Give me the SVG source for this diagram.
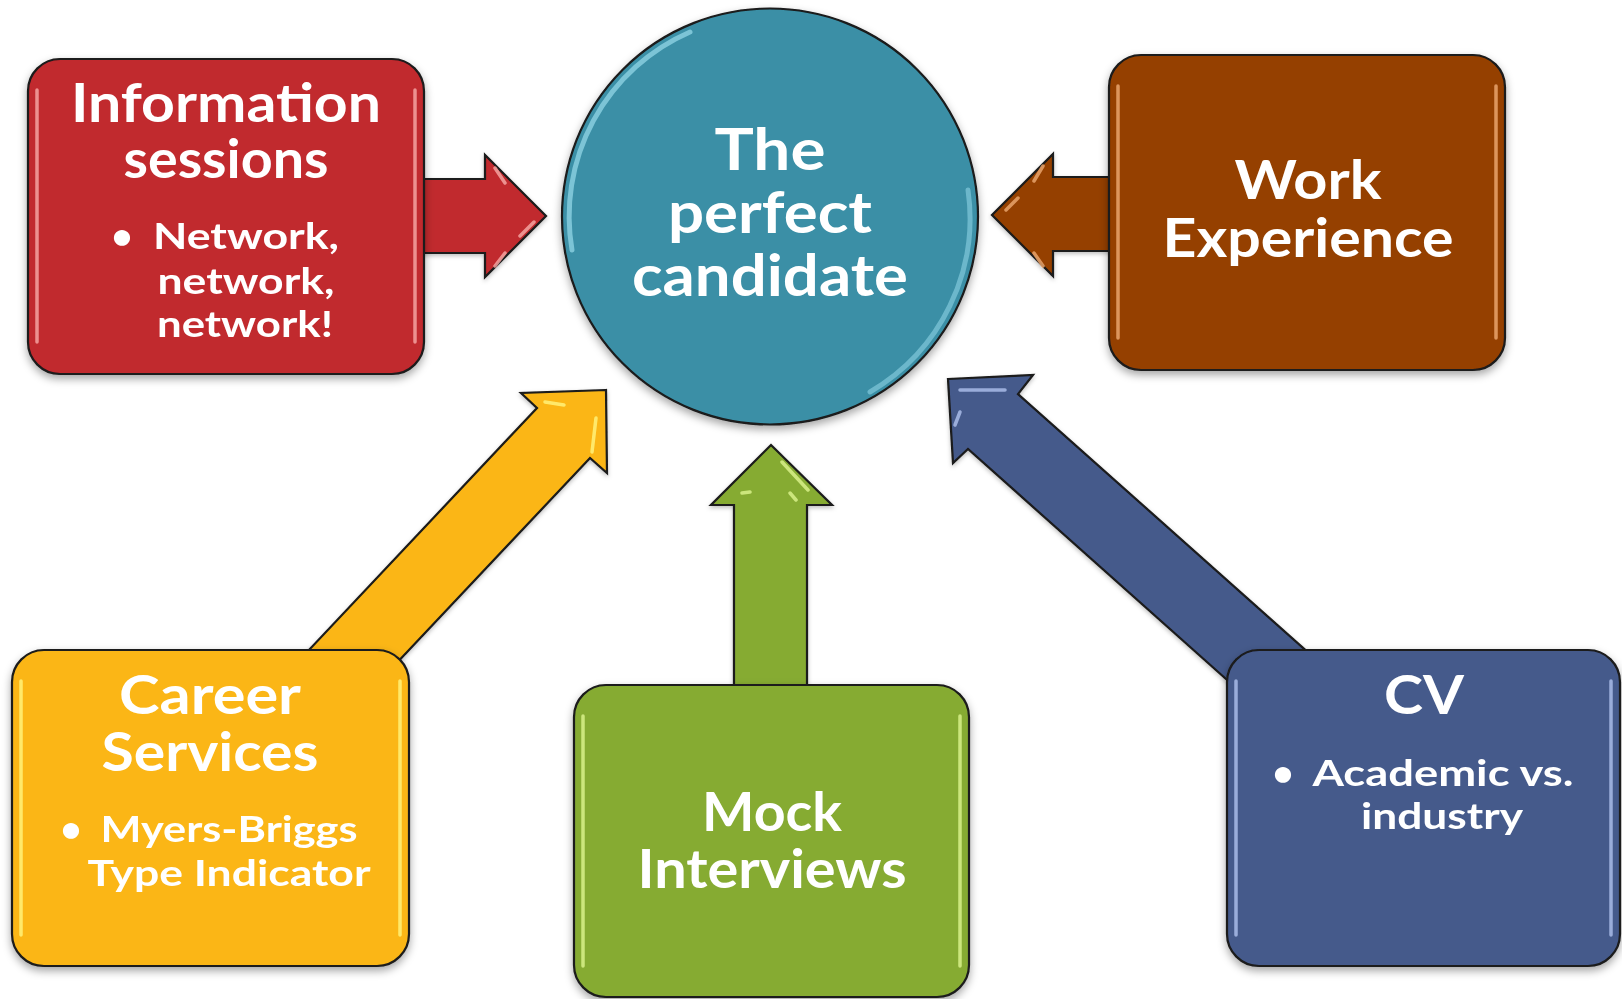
<svg xmlns="http://www.w3.org/2000/svg" width="1622" height="999" viewBox="0 0 1622 999">
<defs>
<filter id="sh" x="-10%" y="-10%" width="120%" height="125%">
<feDropShadow dx="0" dy="4" stdDeviation="4" flood-color="#000" flood-opacity="0.35"/>
</filter>
<filter id="sh2" x="-10%" y="-10%" width="120%" height="125%">
<feDropShadow dx="0" dy="2" stdDeviation="2" flood-color="#000" flood-opacity="0.25"/>
</filter>
</defs>
<style>
.box{stroke:#1a1a1a;stroke-width:2.2}
.arr{stroke:#1a1a1a;stroke-width:2.2;stroke-linejoin:miter}
.hl{fill:none;stroke-width:3.5;stroke-linecap:round;opacity:0.85}
.t{font-family:Lato,"Open Sans","Liberation Sans",sans-serif;font-weight:bold;fill:#fff;text-anchor:middle}
.h{font-size:53px}
.c{font-size:58px}
.b{font-size:37px}
</style>
<rect width="1622" height="999" fill="#fff"/>
<g id="connectors" filter="url(#sh2)">
<path class="arr" fill="#C1292E" d="M400 179 L485 179 L485 155 L546 216 L485 277 L485 253 L400 253 Z"/>
<path class="arr" fill="#954000" d="M1130 177 L1053 177 L1053 154 L992 215 L1053 276 L1053 251 L1130 251 Z"/>
<path class="arr" fill="#FBB614" d="M606 390 L521 393 L537 408 L243 720 L343 720 L590 458 L607 473 Z"/>
<path class="arr" fill="#86AB33" d="M734 720 L734 505 L711 505 L771 445 L832 505 L807 505 L807 720 Z"/>
<path class="arr" fill="#455A8B" d="M948 379 L1033 375 L1018 394 L1384 720 L1272 720 L968 449 L953 463 Z"/>
<path class="hl" stroke="#F3A3A0" d="M495 168 L505 183 M495 266 L505 253 M520 236 L534 222"/>
<path class="hl" stroke="#E9A46C" d="M1043 166 L1034 181 M1043 266 L1034 253 M1006 210 L1018 198"/>
<path class="hl" stroke="#FFF27A" d="M545 402 L564 405 M596 418 L592 452"/>
<path class="hl" stroke="#D8F08A" d="M782 462 L808 490 M742 493 L750 492 M790 493 L796 500"/>
<path class="hl" stroke="#A9BCE8" d="M960 390 L1005 390 M955 425 L960 412"/>
</g>
<g id="center" filter="url(#sh)">
<circle cx="770" cy="216.5" r="208" fill="#3A8FA6" stroke="#1a1a1a" stroke-width="2.2"/>
<path d="M572 250 A201 201 0 0 1 690 32" fill="none" stroke="#9EE0F0" stroke-width="5" stroke-linecap="round" opacity="0.65"/>
<path d="M968 190 A201 201 0 0 1 870 392" fill="none" stroke="#9EE0F0" stroke-width="5" stroke-linecap="round" opacity="0.5"/>
<text class="t c" x="770" y="170" textLength="111" lengthAdjust="spacingAndGlyphs">The</text>
<text class="t c" x="770" y="233" textLength="204" lengthAdjust="spacingAndGlyphs">perfect</text>
<text class="t c" x="770" y="296" textLength="276" lengthAdjust="spacingAndGlyphs">candidate</text>
</g>
<g id="info" filter="url(#sh)">
<rect class="box" x="28" y="59" width="396" height="315" rx="32" fill="#C1292E"/>
<path class="hl" stroke="#F3A3A0" d="M37 90 V342 M415 90 V342"/>
<text class="t h" x="226" y="122" textLength="310" lengthAdjust="spacingAndGlyphs">Information</text>
<text class="t h" x="226" y="178" textLength="205" lengthAdjust="spacingAndGlyphs">sessions</text>
<text class="t b" x="122" y="249">•</text>
<text class="t b" x="246" y="249" textLength="186" lengthAdjust="spacingAndGlyphs">Network,</text>
<text class="t b" x="246" y="294" textLength="177" lengthAdjust="spacingAndGlyphs">network,</text>
<text class="t b" x="245" y="337" textLength="176" lengthAdjust="spacingAndGlyphs">network!</text>
</g>
<g id="work" filter="url(#sh)">
<rect class="box" x="1109" y="55" width="396" height="315" rx="32" fill="#954000"/>
<path class="hl" stroke="#E9A46C" d="M1118 86 V338 M1496 86 V338"/>
<text class="t h" x="1308" y="199" textLength="147" lengthAdjust="spacingAndGlyphs">Work</text>
<text class="t h" x="1308" y="257" textLength="291" lengthAdjust="spacingAndGlyphs">Experience</text>
</g>
<g id="career" filter="url(#sh)">
<rect class="box" x="12" y="650" width="397" height="316" rx="32" fill="#FBB614"/>
<path class="hl" stroke="#FFF27A" d="M21 681 V935 M400 681 V935"/>
<text class="t h" x="210" y="714" textLength="182" lengthAdjust="spacingAndGlyphs">Career</text>
<text class="t h" x="210" y="771" textLength="217" lengthAdjust="spacingAndGlyphs">Services</text>
<text class="t b" x="71" y="842">•</text>
<text class="t b" x="229" y="842" textLength="257" lengthAdjust="spacingAndGlyphs">Myers-Briggs</text>
<text class="t b" x="229" y="886" textLength="283" lengthAdjust="spacingAndGlyphs">Type Indicator</text>
</g>
<g id="mock" filter="url(#sh)">
<rect class="box" x="574" y="685" width="395" height="312" rx="32" fill="#86AB33"/>
<path class="hl" stroke="#D8F08A" d="M583 716 V966 M960 716 V966"/>
<text class="t h" x="772" y="831" textLength="140" lengthAdjust="spacingAndGlyphs">Mock</text>
<text class="t h" x="772" y="888" textLength="269" lengthAdjust="spacingAndGlyphs">Interviews</text>
</g>
<g id="cv" filter="url(#sh)">
<rect class="box" x="1227" y="650" width="393" height="316" rx="32" fill="#455A8B"/>
<path class="hl" stroke="#A9BCE8" d="M1236 681 V935 M1611 681 V935"/>
<text class="t h" x="1424" y="714" textLength="80" lengthAdjust="spacingAndGlyphs">CV</text>
<text class="t b" x="1283" y="786">•</text>
<text class="t b" x="1443" y="786" textLength="261" lengthAdjust="spacingAndGlyphs">Academic vs.</text>
<text class="t b" x="1442" y="829" textLength="162" lengthAdjust="spacingAndGlyphs">industry</text>
</g>
</svg>
